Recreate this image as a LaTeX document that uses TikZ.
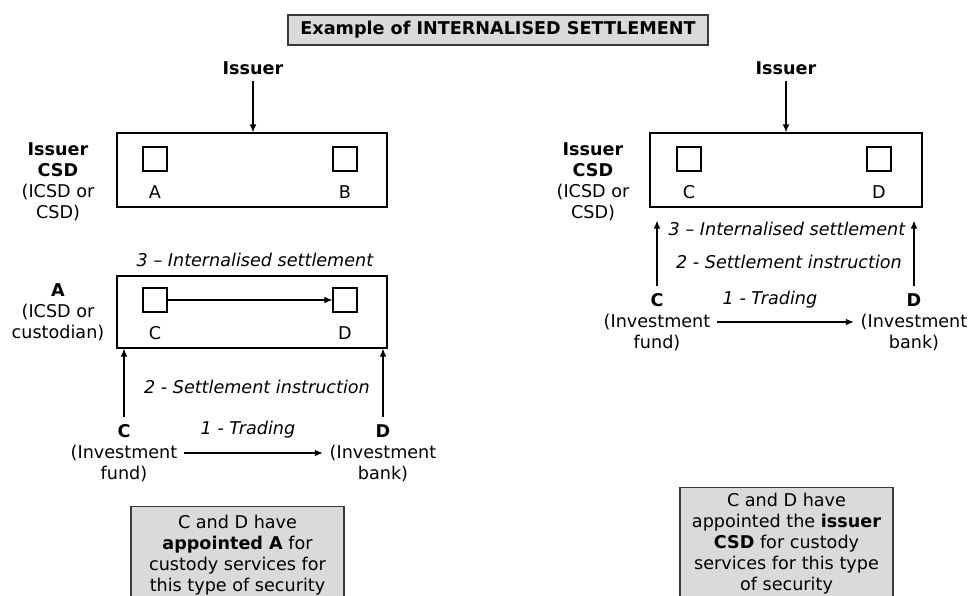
\documentclass[tikz,border=0pt]{standalone}
\usepackage{fontspec}
\setmainfont{DejaVu Sans}
\usetikzlibrary{arrows.meta}
\definecolor{boxgray}{HTML}{DADADA}
\definecolor{edgegray}{HTML}{3A3A3A}
\begin{document}
\begin{tikzpicture}[x=0.75pt,y=-0.75pt,
  every node/.style={font=\fontsize{13.2}{15.75}\selectfont, inner sep=0pt, text=black},
  lbl/.style={align=center, inner sep=5pt},
  bigbox/.style={draw, line width=0.9pt, minimum width=202.5pt, minimum height=55.5pt},
  sq/.style={draw, line width=0.9pt, minimum size=18pt},
  arr/.style={-{Latex[length=6pt,width=5pt]}, line width=0.85pt},
  note/.style={fill=boxgray, draw=edgegray, line width=1.1pt}]
\useasboundingbox (0,0) rectangle (969,595);
\begin{scope}
\clip (0,0) rectangle (969,595);
% title
\node[fill=boxgray, draw=edgegray, line width=1.4pt, minimum width=315pt, minimum height=22.5pt,
      font=\fontsize{13.2}{15}\selectfont\bfseries] (title) at (498,30) {Example of INTERNALISED SETTLEMENT};

% ---------------- left panel ----------------
\node[lbl, font=\fontsize{13.2}{15.75}\selectfont\bfseries] (issL) at (253,68) {Issuer};
\node[bigbox] (b1) at (252,170) {};
\node[sq] (sA) at (155,159) {};
\node[sq] (sB) at (345,159) {};
\node (tA) at (155,192) {A};
\node (tB) at (345,192) {B};
\node[lbl] (l1) at (58,182) {\textbf{Issuer}\\\textbf{CSD}\\(ICSD or\\CSD)};
\draw[arr] (issL.south) -- (issL.south |- b1.north);

\node (st3L) at (255,260) {\itshape 3 – Internalised settlement};
\node[bigbox, minimum height=54pt] (b2) at (252,312) {};
\node[sq] (sC) at (155,300) {};
\node[sq] (sD) at (345,300) {};
\node (tC) at (155,333) {C};
\node (tD) at (345,333) {D};
\draw[arr] (sC.east) -- (sD.west);
\node[lbl] (l2) at (58,312) {\textbf{A}\\(ICSD or\\custodian)};

\node (st2L) at (257,387) {\itshape 2 - Settlement instruction};
\node[lbl] (cL) at (124,453) {\textbf{C}\\(Investment\\fund)};
\node[lbl] (dL) at (383,453) {\textbf{D}\\(Investment\\bank)};
\draw[arr] (cL.north) -- (cL.north |- b2.south);
\draw[arr] (dL.north) -- (dL.north |- b2.south);
\draw[arr] (cL.east) -- (dL.west);
\node (trL) at (248,430) {\itshape 1 - Trading};

\node[note, minimum width=160pt, minimum height=90pt, anchor=north] (nL) at (237.5,506) {};
\node[align=center] (nLt) at (237.5,555) {C and D have\\\textbf{appointed A} for\\custody services for\\this type of security};

% ---------------- right panel ----------------
\node[lbl, font=\fontsize{13.2}{15.75}\selectfont\bfseries] (issR) at (786,68) {Issuer};
\node[bigbox, minimum width=204pt] (b3) at (786,170) {};
\node[sq] (sC2) at (689,159) {};
\node[sq] (sD2) at (879,159) {};
\node (tC2) at (689,192) {C};
\node (tD2) at (879,192) {D};
\node[lbl] (l3) at (593,182) {\textbf{Issuer}\\\textbf{CSD}\\(ICSD or\\CSD)};
\draw[arr] (issR.south) -- (issR.south |- b3.north);

\node (st3R) at (787,229) {\itshape 3 – Internalised settlement};
\node (st2R) at (789,262) {\itshape 2 - Settlement instruction};
\node[lbl] (cR) at (657,322) {\textbf{C}\\(Investment\\fund)};
\node[lbl] (dR) at (914,322) {\textbf{D}\\(Investment\\bank)};
\draw[arr, shorten >=9.75pt] (cR.north) -- (cR.north |- b3.south);
\draw[arr, shorten >=9.75pt] (dR.north) -- (dR.north |- b3.south);
\draw[arr] (cR.east) -- (dR.west);
\node (trR) at (770,300) {\itshape 1 - Trading};

\node[note, minimum width=160pt, minimum height=100pt, anchor=north] (nR) at (786.5,487) {};
\node[align=center] (nRt) at (786.5,544) {C and D have\\appointed the \textbf{issuer}\\\textbf{CSD} for custody\\services for this type\\of security};
\end{scope}
\end{tikzpicture}
\end{document}
